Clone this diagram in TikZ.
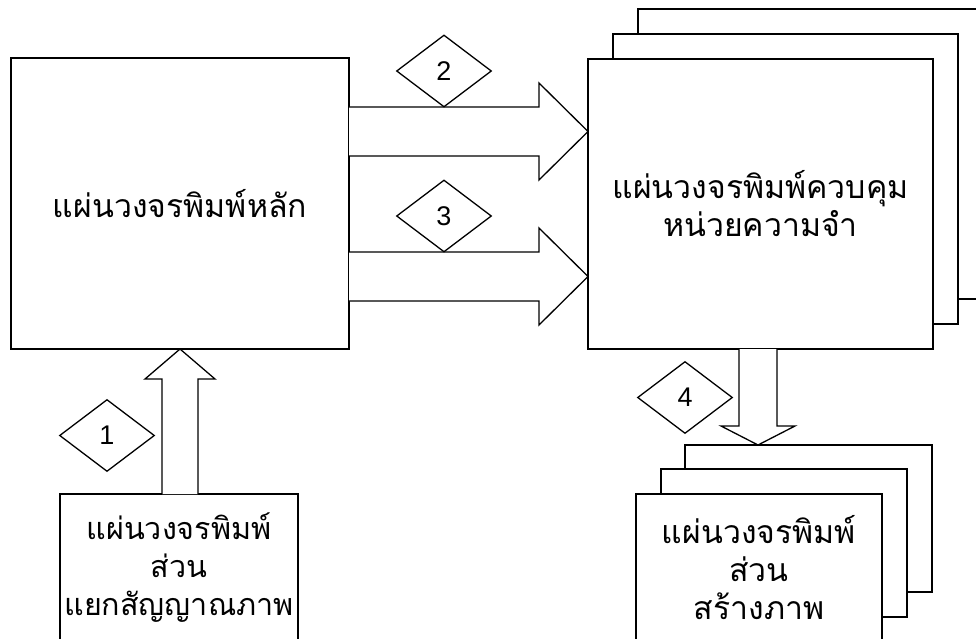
\documentclass[tikz,border=0pt]{standalone}
\usepackage{fontspec}
\setmainfont{Liberation Sans}
\newfontfamily\thaifont[Script=Thai]{Loma}
\usetikzlibrary{shapes.geometric}
\tikzset{
  board/.style={draw, fill=white, align=center, inner sep=0pt,
    font=\thaifont\fontsize{32}{38}\selectfont},
  tag/.style={diamond, draw, fill=white, inner sep=0pt,
    minimum width=95pt, minimum height=72pt, font=\fontsize{27}{27}\selectfont},
  blockarrow/.style={draw, fill=white, line join=miter}
}
\begin{document}
\begin{tikzpicture}[x=1pt, y=-1pt, line width=1.3pt]
\useasboundingbox (0,0) rectangle (976,639);
\clip (0,0) rectangle (976,639);
% memory controller stack
\node[board, minimum width=345pt, minimum height=290pt] (memC) at (810.5,154) {};
\node[board, minimum width=345pt, minimum height=290pt] (memB) at (785.5,179) {};
\node[board, minimum width=345pt, minimum height=290pt] (mem) at (760.5,204) {แผ่นวงจรพิมพ์ควบคุม\\หน่วยความจำ};
% main board
\node[board, minimum width=338pt, minimum height=291pt] (main) at (180,203.5) {แผ่นวงจรพิมพ์หลัก};
% image generation stack
\node[board, minimum width=247pt, minimum height=147pt] (genC) at (808.5,518.5) {};
\node[board, minimum width=246pt, minimum height=148pt] (genB) at (784,543) {};
\node[board, minimum width=246pt, minimum height=147pt] (gen) at (759,567.5) {แผ่นวงจรพิมพ์\\ส่วน\\สร้างภาพ};
% separation board
\node[board, minimum width=238pt, minimum height=147pt, font=\thaifont\fontsize{30.5}{38}\selectfont] (sep) at (179,567.5) {แผ่นวงจรพิมพ์\\ส่วน\\แยกสัญญาณภาพ};
% block arrows
\draw[blockarrow] (349,107) -- (539,107) -- (539,83) -- (588,131.5) -- (539,180) -- (539,156) -- (349,156);
\draw[blockarrow] (349,252) -- (539,252) -- (539,228) -- (588,276.5) -- (539,325) -- (539,301) -- (349,301);
\draw[blockarrow] (162,494) -- (162,379) -- (145,379) -- (180,349) -- (215,379) -- (198,379) -- (198,494);
\draw[blockarrow] (739,349) -- (739,426) -- (721,426) -- (758,445) -- (795,426) -- (777,426) -- (777,349);
% tags
\node[tag] (t2) at (444,71) {2};
\node[tag] (t3) at (444,216) {3};
\node[tag] (t1) at (107,435.5) {1};
\node[tag] (t4) at (685,397.5) {4};
\end{tikzpicture}
\end{document}
